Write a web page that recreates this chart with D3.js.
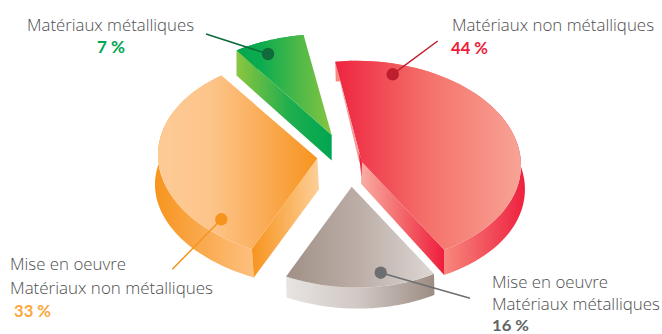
<!DOCTYPE html>
<html>
<head>
<meta charset="utf-8">
<script src="https://cdn.jsdelivr.net/npm/d3@7"></script>
<style>
  html, body { margin: 0; padding: 0; background: #fff; }
  svg { display: block; }
  text { font-family: "Open Sans", "Noto Sans", sans-serif; }
  text.percent { font-family: "Lato", "Open Sans", sans-serif; }
</style>
</head>
<body>
<div id="chart"></div>
<script>
// Shares of the four material groups, clockwise from the top
const categories = ["Matériaux non métalliques", "Mise en oeuvre Matériaux métalliques", "Mise en oeuvre Matériaux non métalliques", "Matériaux métalliques"];
const values = [44, 16, 33, 7];
const percentLabels = ["44 %", "16 %", "33 %", "7 %"];
const percentColors = ["#ed1c3a", "#626366", "#f9a83c", "#00a651"];
const dotColors = ["#be1e2d", "#6d6e71", "#f7941e", "#0f6b3c"];

const width = 662, height = 334;

// Tilted disc: maps a point of the unit circle onto the page
const tilt = { xx: 157, xy: 27, yx: -13.6, yy: 100 };
const project = (t, spread) => {
  const x = Math.sin(t), y = -Math.cos(t);
  return [(tilt.xx * x + tilt.xy * y) * spread, tilt.yx * x + tilt.yy * y];
};

const degrees = d => d * Math.PI / 180;

// Exploded slice layout: wedge tip, perspective correction (turn, spread)
// and how the lower face is displaced from the upper one
const sliceLayout = [
  { tip: [361.7, 161.7], turn: 0.2, spread: 1, lift: { dx: -0.7, a: 0.0295, b: -0.0196, dy: 22, c: 0.02, d: 0.016 }, wall: "end", sliver: true },
  { tip: [351.7, 186.7], turn: -1, spread: 0.965, lift: { dx: 0.5, a: 0, b: 0, dy: 21, c: 0, d: 0 }, wall: null },
  { tip: [317.3, 158.3], turn: -2, spread: 1, lift: { dx: 1.7, a: 0.029, b: 0.024, dy: 31, c: 0, d: -0.025 }, wall: "start" },
  { tip: [331.7, 135], turn: 0, spread: 1.04, lift: { dx: 0, a: 0, b: 0, dy: 25.5, c: 0, d: 0 }, wall: "start" }
];

// Horizontal shading of each face: [x from, x to, stops]
const topShades = [
  [334, 522, [[0, "#ee2340"], [0.5, "#f4716a"], [1, "#f8a496"]]],
  [286, 433, [[0, "#a09087"], [0.5, "#bcaea7"], [1, "#dcd6d3"]]],
  [157, 317, [[0, "#fdcb98"], [0.35, "#fdc488"], [0.7, "#faa951"], [1, "#f7941e"]]],
  [237, 332, [[0, "#04a64f"], [0.25, "#0cab4f"], [1, "#86c541"]]]
];
const rimShades = [
  [443, 526, [[0, "#f78a7f"], [1, "#ee1f3e"]]],
  [286, 434, [[0, "#e8e4e2"], [0.5, "#cfc7c3"], [1, "#9d8d84"]]],
  [154, 254, [[0, "#f7941e"], [1, "#fdc080"]]],
  [237, 305, [[0, "#00a651"], [1, "#00a651"]]]
];
const wallShades = [
  [361, 443, [[0, "#f9aca3"], [0.5, "#f3686a"], [1, "#ee1f3e"]]],
  null,
  [252, 319, [[0, "#f7941e"], [1, "#fdcf98"]]],
  [237, 332, [[0, "#8cc63f"], [0.55, "#1fae4e"], [1, "#00a651"]]]
];

// Leader lines: dot on the slice, free end toward the label
const leaderDots = [[392.7, 74.3], [380.7, 272.7], [221.3, 219.3], [268, 54]];
const leaderEnds = [[437.7, 41], [470, 298.3], [172.3, 269.3], [206, 34]];

// Label lines: text, x, baseline, drawn width
const labelLines = [
  ["Matériaux métalliques", 27, 31, 167],
  ["Matériaux non métalliques", 452, 31, 202],
  ["Mise en oeuvre", 10, 270, 116],
  ["Matériaux non métalliques", 10, 294, 203],
  ["Mise en oeuvre", 492, 287.5, 116],
  ["Matériaux métalliques", 492, 310, 168]
];
// Percent labels: x, baseline, drawn width, font size
const percentPlacement = [[451, 54, 37, 17], [492, 330.5, 37, 15.5], [14, 317, 37, 17], [97, 53, 28, 17]];

const svg = d3.select("#chart").append("svg").attr("width", width).attr("height", height);
const defs = svg.append("defs");

function shade(id, spec) {
  const g = defs.append("linearGradient").attr("id", id)
    .attr("gradientUnits", "userSpaceOnUse")
    .attr("x1", spec[0]).attr("x2", spec[1]).attr("y1", 0).attr("y2", 0);
  spec[2].forEach(s => g.append("stop").attr("offset", s[0]).attr("stop-color", s[1]));
  return `url(#${id})`;
}

const pie = d3.pie().sort(null);
const arcs = pie(values);
const outline = d3.line();

arcs.forEach((slice, i) => {
  const layout = sliceLayout[i];
  const [tx, ty] = layout.tip;
  const top = v => [tx + v[0], ty + v[1]];
  const low = v => {
    const l = layout.lift;
    return [tx + v[0] + l.dx + l.a * v[0] + l.b * v[1],
            ty + v[1] + l.dy + l.c * v[0] + l.d * v[1]];
  };
  const steps = d3.range(0, 61).map(k => slice.startAngle + degrees(layout.turn) + (slice.endAngle - slice.startAngle) * k / 60);
  const rim = steps.map(t => project(t, layout.spread));
  const g = svg.append("g");

  // Curved outer wall, mostly hidden by the upper face
  g.append("path")
    .attr("d", outline(rim.map(top).concat(rim.slice().reverse().map(low))) + "Z")
    .attr("fill", shade(`rim${i}`, rimShades[i]));

  // Straight cut wall
  if (layout.wall) {
    const e = layout.wall === "start" ? rim[0] : rim[rim.length - 1];
    g.append("path")
      .attr("d", outline([top([0, 0]), top(e), low(e), low([0, 0])]) + "Z")
      .attr("fill", shade(`wall${i}`, wallShades[i]));
  }

  // Upper face
  g.append("path")
    .attr("d", outline([top([0, 0])].concat(rim.map(top))) + "Z")
    .attr("fill", shade(`top${i}`, topShades[i]));

  // Thin glimpse of the far cut wall, with the face's tip running past it
  if (layout.sliver) {
    g.append("path")
      .attr("d", outline([top(rim[0]), top([-2.4, 1]), top([0, 0])]) + "Z")
      .attr("fill", "#f59c9a");
    g.append("path")
      .attr("d", outline([top([-3, -10]), top([-0.2, 16]), top([0.4, 0])]) + "Z")
      .attr("fill", "#ee2340");
  }
});

// Leaders
categories.forEach((c, i) => {
  svg.append("line")
    .attr("x1", leaderDots[i][0]).attr("y1", leaderDots[i][1])
    .attr("x2", leaderEnds[i][0]).attr("y2", leaderEnds[i][1])
    .attr("stroke", dotColors[i]).attr("stroke-width", 1.5);
  svg.append("circle")
    .attr("cx", leaderDots[i][0]).attr("cy", leaderDots[i][1])
    .attr("r", 6.2).attr("fill", dotColors[i]);
});

// Labels
labelLines.forEach(l => {
  svg.append("text").attr("x", l[1]).attr("y", l[2])
    .attr("font-size", 17).attr("font-weight", 300).attr("fill", "#4d4e50")
    .attr("textLength", l[3]).attr("lengthAdjust", "spacingAndGlyphs")
    .text(l[0]);
});
percentLabels.forEach((p, i) => {
  svg.append("text").attr("class", "percent")
    .attr("x", percentPlacement[i][0]).attr("y", percentPlacement[i][1])
    .attr("font-size", percentPlacement[i][3]).attr("font-weight", 700).attr("fill", percentColors[i])
    .attr("textLength", percentPlacement[i][2]).attr("lengthAdjust", "spacingAndGlyphs")
    .text(p);
});
</script>
</body>
</html>
